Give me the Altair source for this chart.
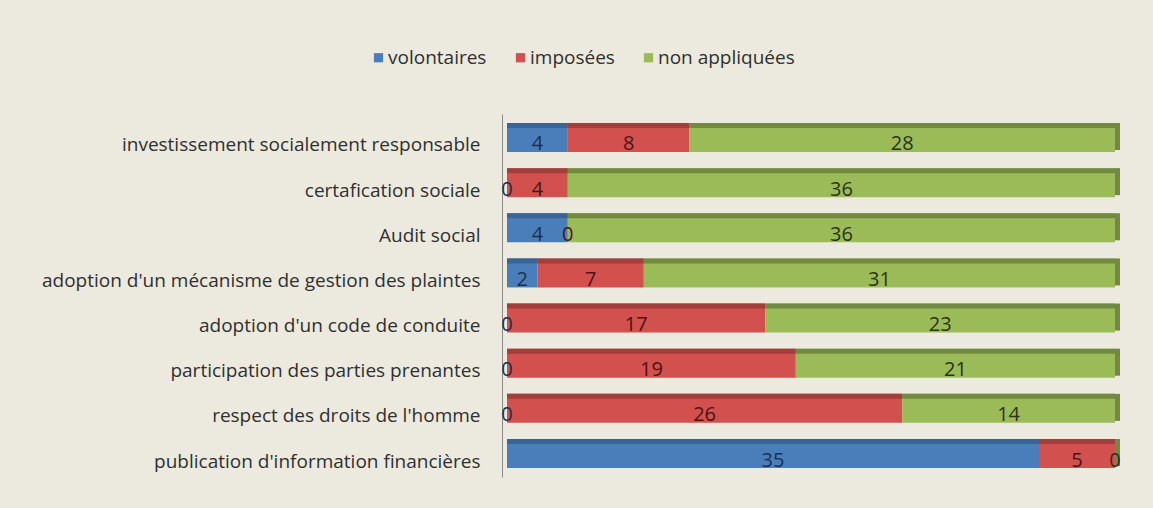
import altair as alt
import pandas as pd

categories = [
    "investissement socialement responsable",
    "certafication sociale",
    "Audit social",
    "adoption d'un mécanisme de gestion des plaintes",
    "adoption d'un code de conduite",
    "participation des parties prenantes",
    "respect des droits de l'homme",
    "publication d'information financières",
]
series = ["volontaires", "imposées", "non appliquées"]
volontaires = [4, 0, 4, 2, 0, 0, 0, 35]
imposees = [8, 4, 0, 7, 17, 19, 26, 5]
non_appliquees = [28, 36, 36, 31, 23, 21, 14, 0]

colors = ["#4a7ebb", "#d2504d", "#9bbb59"]
dark_colors = ["#3a6496", "#a23e3b", "#728a40"]
text_colors = ["#1c2f4f", "#4a1515", "#2a3318"]

rows = []
for i, cat in enumerate(categories):
    vals = [volontaires[i], imposees[i], non_appliquees[i]]
    start = 0
    for j, s in enumerate(series):
        end = start + vals[j]
        rows.append({
            "cat": cat, "serie": s, "order": j, "value": vals[j],
            "start": start, "end": end, "mid": (start + end) / 2,
            "dark": dark_colors[j], "tcol": text_colors[j],
        })
        start = end
df = pd.DataFrame(rows)

FONT = "Open Sans"
yenc = alt.Y("cat:N", sort=categories,
             scale=alt.Scale(paddingInner=0.36, paddingOuter=0.2),
             axis=alt.Axis(title=None, ticks=False, domain=True, domainColor="#8a8a8a",
                           offset=5, labelPadding=22, labelFontSize=19, labelOffset=8,
                           labelColor="#303030", labelFont=FONT, labelLimit=520))
xscale = alt.Scale(domain=[0, 40])
xenc = alt.X("start:Q", scale=xscale, axis=None)
ysimple = alt.Y("cat:N", sort=categories)

base = alt.Chart(df)
bars = base.mark_bar(size=29).encode(
    y=yenc, x=xenc, x2="end:Q",
    color=alt.Color("serie:N", sort=series,
                    scale=alt.Scale(domain=series, range=colors),
                    legend=alt.Legend(title=None, orient="none", direction="horizontal",
                                      legendX=-138, legendY=-66, symbolType="square",
                                      symbolSize=85, labelFontSize=19, labelFont=FONT,
                                      labelColor="#303030", columnPadding=24,
                                      symbolStrokeWidth=0, labelOffset=0)),
)
top = base.mark_bar(size=5, yOffset=-12).encode(
    y=ysimple, x=xenc, x2="end:Q",
    color=alt.Color("dark:N", scale=None),
)
cap = base.transform_filter("datum.order == 2").mark_bar(size=27, yOffset=-1, x2Offset=5).encode(
    y=ysimple, x=alt.X("end:Q", scale=xscale, axis=None), x2="end:Q",
    color=alt.Color("dark:N", scale=None),
)
labels = base.mark_text(fontSize=20, font=FONT, baseline="middle", dy=7).encode(
    y=ysimple, x=alt.X("mid:Q", scale=xscale, axis=None),
    text="value:Q", color=alt.Color("tcol:N", scale=None),
)

chart = alt.layer(bars, top, cap, labels).properties(
    width=608, height=363,
    autosize=alt.AutoSizeParams(type="none"),
    padding={"left": 507, "top": 114, "right": 38, "bottom": 31},
    background="#ece9df",
).configure_view(stroke=None)

chart.save("out.html", embed_options={"renderer": "svg", "actions": False})
